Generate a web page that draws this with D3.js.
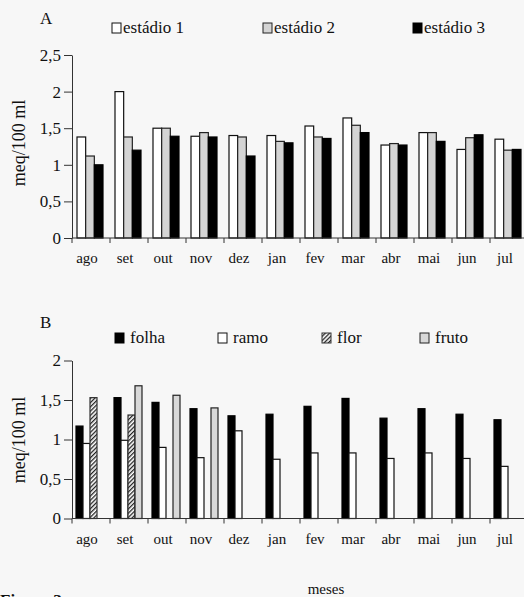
<!DOCTYPE html>
<html>
<head>
<meta charset="utf-8">
<script src="https://cdn.jsdelivr.net/npm/d3@7"></script>
<style>
  body { margin: 0; background: #f7f7f7; }
  svg text { font-family: "Liberation Serif", "Times New Roman", Tinos, "DejaVu Serif", serif; fill: #111; }
</style>
</head>
<body>
<svg id="fig" width="524" height="597" font-family="Liberation Serif, Times New Roman, DejaVu Serif, serif"></svg>
<script>
// données
const months = ["ago", "set", "out", "nov", "dez", "jan", "fev", "mar", "abr", "mai", "jun", "jul"];

// A : estádios
const stageNames = ["estádio 1", "estádio 2", "estádio 3"];
const stage1 = [1.38, 2.0, 1.5, 1.39, 1.4, 1.4, 1.53, 1.64, 1.27, 1.44, 1.21, 1.35];
const stage2 = [1.12, 1.38, 1.5, 1.44, 1.38, 1.32, 1.38, 1.54, 1.29, 1.44, 1.37, 1.2];
const stage3 = [1.0, 1.2, 1.39, 1.38, 1.12, 1.3, 1.36, 1.44, 1.27, 1.32, 1.41, 1.21];
const ticksA = [0, 0.5, 1, 1.5, 2, 2.5];

// B : órgãos (null = sem barra)
const organNames = ["folha", "ramo", "flor", "fruto"];
const folha = [1.17, 1.53, 1.47, 1.39, 1.3, 1.32, 1.42, 1.52, 1.27, 1.39, 1.32, 1.25];
const ramo = [0.95, 0.99, 0.9, 0.77, 1.11, 0.75, 0.83, 0.83, 0.76, 0.83, 0.76, 0.66];
const flor = [1.53, 1.31, null, null, null, null, null, null, null, null, null, null];
const fruto = [null, 1.68, 1.56, 1.4, null, null, null, null, null, null, null, null];
const ticksB = [0, 0.5, 1, 1.5, 2];

const svg = d3.select("#fig");
const FONT = "Liberation Serif, Times New Roman, DejaVu Serif, serif";
const fmt = d => String(d).replace(".", ",");

// hachuras da "flor"
const defs = svg.append("defs");
const pat = defs.append("pattern")
  .attr("id", "hatch")
  .attr("patternUnits", "userSpaceOnUse")
  .attr("width", 3).attr("height", 3)
  .attr("patternTransform", "rotate(-45)");
pat.append("rect").attr("width", 3).attr("height", 3).attr("fill", "#fff");
pat.append("rect").attr("width", 3).attr("height", 1.3).attr("fill", "#222");

const styles = {
  "estádio 1": { fill: "#fff", stroke: "#111" },
  "estádio 2": { fill: "#d4d4d4", stroke: "#222" },
  "estádio 3": { fill: "#000", stroke: "#000" },
  "folha": { fill: "#000", stroke: "#000" },
  "ramo": { fill: "#fff", stroke: "#111" },
  "flor": { fill: "url(#hatch)", stroke: "#333" },
  "fruto": { fill: "#d8d8d8", stroke: "#222" }
};

function label(sel, size) {
  return sel.attr("font-family", FONT).style("font-family", FONT).style("font-size", size + "px");
}

function panel(opt) {
  const g = svg.append("g");
  const x = d3.scaleBand().domain(months).range([72, 72 + 38 * 12]);
  const xs = d3.scaleBand().domain(opt.names).range(opt.inner);
  const y = d3.scaleLinear().domain([0, opt.max]).range([opt.y0, opt.y1]);

  // barras
  opt.names.forEach((name, si) => {
    const vals = opt.series[si];
    g.selectAll(null)
      .data(months.map((m, i) => ({ m, v: vals[i] })).filter(d => d.v !== null))
      .enter().append("rect")
      .attr("x", d => x(d.m) + xs(name))
      .attr("y", d => y(d.v))
      .attr("width", xs.bandwidth())
      .attr("height", d => y(0) - y(d.v))
      .attr("fill", styles[name].fill)
      .attr("stroke", styles[name].stroke)
      .attr("stroke-width", 1.2);
  });

  // eixo y
  const ay = g.append("g").attr("transform", "translate(72,0)")
    .call(d3.axisLeft(y).tickValues(opt.ticks).tickFormat(fmt).tickSize(8).tickSizeOuter(0));
  ay.attr("font-family", FONT);
  ay.select(".domain").attr("stroke", "#333");
  ay.selectAll(".tick line").attr("stroke", "#333");
  label(ay.selectAll(".tick text").attr("x", -11).attr("fill", "#111"), 17);

  // eixo x
  g.append("line").attr("x1", 72).attr("x2", 524).attr("y1", y(0)).attr("y2", y(0))
    .attr("stroke", "#333");
  g.selectAll(null).data(months).enter().append("line")
    .attr("x1", d => x(d)).attr("x2", d => x(d))
    .attr("y1", y(0)).attr("y2", y(0) + 5).attr("stroke", "#333");
  label(g.selectAll(null).data(months).enter().append("text")
    .attr("x", d => x(d) + x.bandwidth() / 2 - 4)
    .attr("y", y(0) + 25)
    .attr("text-anchor", "middle"), 15)
    .text(d => d);

  // título do eixo y
  label(g.append("text")
    .attr("transform", `translate(25,${opt.labelY}) rotate(-90)`)
    .attr("text-anchor", "middle"), 18)
    .text("meq/100 ml");

  // letra do painel
  label(g.append("text").attr("x", 40).attr("y", opt.letterY), 17).text(opt.letter);

  // legenda
  opt.names.forEach((name, i) => {
    const lx = opt.legendX[i];
    g.append("rect").attr("x", lx).attr("y", opt.legendY - 10)
      .attr("width", 9).attr("height", 10)
      .attr("fill", styles[name].fill).attr("stroke", styles[name].stroke);
    label(g.append("text").attr("x", lx + opt.legendGap).attr("y", opt.legendY), 17).text(name);
  });
}

panel({
  names: stageNames, series: [stage1, stage2, stage3], max: 2.5, ticks: ticksA,
  y0: 238, y1: 55, inner: [5, 31], labelY: 143,
  letter: "A", letterY: 24,
  legendX: [112, 263, 413], legendGap: 11, legendY: 33
});

panel({
  names: organNames, series: [folha, ramo, flor, fruto], max: 2, ticks: ticksB,
  y0: 518.5, y1: 360.5, inner: [4, 32], labelY: 440,
  letter: "B", letterY: 328,
  legendX: [115, 218, 322, 420], legendGap: 15, legendY: 343
});

// título do eixo x
label(svg.append("text").attr("x", 326).attr("y", 594).attr("text-anchor", "middle"), 15)
  .text("meses");

// legenda da figura (cortada na borda inferior)
label(svg.append("text").attr("x", 0).attr("y", 606), 17)
  .style("font-weight", "bold").text("Figura 3.");
</script>
</body>
</html>
